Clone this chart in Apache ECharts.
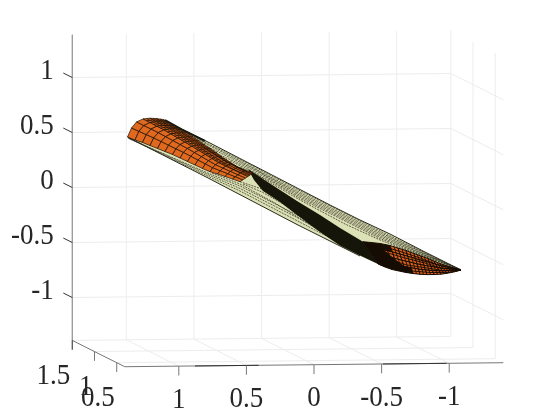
<!DOCTYPE html>
<html>
<head>
<meta charset="utf-8">
<style>
  html, body { margin: 0; padding: 0; background: #fff; }
  #chart { width: 556px; height: 417px; }
</style>
</head>
<body>
<div id="chart"></div>
<script src="https://cdn.jsdelivr.net/npm/echarts@6/dist/echarts.min.js"></script>
<script>
// axis ticks of the 3d box
var xTicks = [1, 0.5, 0, -0.5, -1];
var yTicks = [0.5, 1, 1.5];
var zTicks = [-1, -0.5, 0, 0.5, 1];
var xLim = [-1.4, 1.4];
var yLim = [0.32, 1.5];
var zLim = [-1.39, 1.39];

// the surface in view plane units
var tubeTop = [[163, 119.5], [181.7, 129.3], [210, 143], [240, 158.5], [273, 175.5], [300, 189.5], [330, 205], [360, 220], [390, 234], [423, 251], [461, 270]];
var tubeBottom = [[461, 270], [443, 274], [423, 274.5], [400, 271], [380, 265], [360, 256], [340, 246], [297, 224.5], [263, 206.7], [210, 179], [127.5, 137]];
var darkBand = [[248, 169], [263, 179], [280, 190], [297, 201], [320, 215], [340, 228], [363, 241.7], [378, 264], [360, 255.5], [340, 245.5], [320, 232], [297, 215], [280, 202], [263, 191], [254, 180]];
var darkLobe = [[363, 241.7], [380, 247], [396, 260], [415, 274], [400, 271], [380, 265]];
var topShadow = [[165, 120], [181.7, 129.3], [205, 141]];

// longitudinal lines on the pale part of the tube
var paleLines = [
  [[186, 133], [250, 164.5], [300, 190.8], [380, 231], [461, 270]],
  [[196, 139], [250, 166], [300, 192.5], [380, 232.5], [461, 270]],
  [[208, 147], [255, 169.5], [300, 194], [380, 234], [461, 270]],
  [[220, 155], [260, 173], [300, 195.5], [380, 235.5], [461, 270]],
  [[230, 161], [265, 177], [300, 197], [380, 237], [461, 270]],
  [[240, 167], [270, 181], [300, 198.5], [380, 238.5], [461, 270]],
  [[252, 172], [300, 200], [345, 224], [380, 240], [461, 270]],
  [[130, 139], [210, 174], [240, 186], [300, 216.5], [340, 238]],
  [[129, 138.5], [210, 175.5], [240, 188.5], [300, 219], [340, 241]],
  [[128, 138], [210, 177.2], [240, 191], [290, 217], [340, 243]],
  [[240, 181.7], [262, 189], [280, 197]],
  [[243, 184], [262, 192], [285, 205]],
  [[212, 173], [240, 184], [275, 203], [320, 231]]
];

// rows run across the tube, columns along it
var orangeLeft = [
  [[127.5, 137], [131.5, 128], [136.6, 121.9], [143.1, 118.9], [149.9, 118.2], [156.5, 118.6], [163, 119.5]],
  [[135, 140], [138.9, 131.3], [143.8, 125.5], [150.1, 122.5], [156.6, 121.8], [162.8, 122.1], [169, 122.5]],
  [[142.5, 142.5], [146.3, 134.6], [151.1, 129], [157, 126.2], [163.2, 125.4], [169.2, 125.5], [175, 126]],
  [[150, 145.5], [153.7, 137.9], [158.3, 132.6], [164, 129.8], [169.9, 129], [175.5, 129], [181, 129.5]],
  [[157.5, 148.5], [161.2, 141.5], [165.6, 136.6], [171, 133.9], [176.6, 133.1], [181.8, 133], [187, 133]],
  [[165, 151.5], [168.6, 145.2], [172.9, 140.5], [178, 138], [183.2, 137.2], [188.2, 137], [193, 137]],
  [[172.5, 154.5], [176, 148.8], [180.1, 144.5], [185, 142.1], [189.9, 141.2], [194.5, 141], [199, 141]],
  [[180, 158], [183.5, 152.4], [187.4, 148.4], [192, 146.2], [196.5, 145.3], [200.8, 145], [205, 145]],
  [[187.5, 161.5], [190.8, 156.2], [194.4, 152.5], [198.7, 150.3], [202.8, 149.3], [206.7, 148.9], [211, 149]],
  [[195, 165], [198.1, 160], [201.5, 156.6], [205.4, 154.4], [209, 153.3], [212.6, 152.8], [217, 153]],
  [[202.5, 168.5], [205.4, 163.9], [208.5, 160.6], [212, 158.5], [215.3, 157.3], [218.5, 156.7], [222, 157]],
  [[210, 171.7], [212.7, 167.7], [215.5, 164.7], [218.7, 162.6], [221.6, 161.3], [224.4, 160.6], [227, 160]],
  [[217.5, 174], [220.3, 170.7], [223, 168], [226, 166.1], [228.6, 164.8], [231.2, 164], [232, 163.5]],
  [[225, 176.5], [227.8, 173.7], [230.5, 171.4], [233.3, 169.6], [235.7, 168.3], [237.9, 167.3], [238, 167]],
  [[232.5, 179], [235.4, 176.8], [238, 174.7], [240.5, 173], [242.7, 171.7], [244.7, 170.7], [245, 170]],
  [[240, 181.7], [242.9, 179.8], [245.5, 178], [247.8, 176.5], [249.8, 175.2], [251.4, 174], [253, 173]]
];
// the finer, darker mesh on the upper side of the left patch
var orangeLeftFine = [
  [[146.6, 120.7], [153.3, 120], [159.7, 120.3], [166, 121]],
  [[153.6, 124.3], [159.9, 123.6], [166, 123.8], [172, 124.2]],
  [[160.5, 128], [166.5, 127.2], [172.4, 127.2], [178, 127.7]],
  [[167.5, 131.8], [173.2, 131], [178.6, 131], [184, 131.2]],
  [[174.5, 136], [179.9, 135.1], [185, 135], [190, 135]],
  [[181.5, 140], [186.5, 139.2], [191.4, 139], [196, 139]],
  [[188.5, 144.1], [193.2, 143.2], [197.7, 143], [202, 143]],
  [[195.3, 148.2], [199.7, 147.3], [203.8, 147], [208, 147]],
  [[202, 152.3], [205.9, 151.3], [209.7, 150.9], [214, 151]],
  [[208.7, 156.4], [212.1, 155.3], [215.5, 154.8], [219.5, 155]],
  [[215.3, 160.5], [218.4, 159.3], [221.4, 158.6], [224.5, 158.5]],
  [[222.3, 164.3], [225.1, 163], [227.8, 162.3], [229.5, 161.8]],
  [[146.5, 118.5], [167, 129.4], [180.6, 137.6], [194, 145.7], [207, 153.8], [220, 162], [235, 170], [248.8, 175.8]],
  [[153, 118.3], [172.5, 129], [185, 137], [198.7, 145.1], [212, 153], [225, 161], [240, 169], [250, 174.5]],
  [[160, 119], [178, 129.2], [190.5, 137], [203, 145], [215, 153], [225.7, 160.3], [240, 168.5], [252, 173.5]]
];

var orangeRight = [
  [[363, 241.7], [366.8, 247.3], [370.5, 252.9], [374.3, 258.4], [378, 264]],
  [[371, 242.5], [374.5, 248.6], [378, 254.8], [381.5, 260.9], [385, 267]],
  [[380, 243.5], [383, 250], [386, 256.5], [389, 263], [392, 269.5]],
  [[390, 245.5], [392.3, 251.9], [394.5, 258.3], [396.8, 264.6], [399, 271]],
  [[398, 248], [400, 254.1], [402, 260.3], [404, 266.4], [406, 272.5]],
  [[406, 250.5], [407.8, 256.3], [409.5, 262], [411.3, 267.8], [413, 273.5]],
  [[414, 253.5], [415.5, 258.7], [417, 263.9], [418.5, 269.1], [420, 274.3]],
  [[421, 256], [422.5, 260.7], [424, 265.3], [425.5, 270], [427, 274.6]],
  [[428, 258.5], [429.5, 262.5], [431, 266.5], [432.5, 270.5], [434, 274.5]],
  [[434, 261], [435.8, 264.3], [437.5, 267.6], [439.3, 270.9], [441, 274.2]],
  [[440, 263.5], [441.8, 266], [443.5, 268.4], [445.3, 270.9], [447, 273.3]],
  [[446, 265.5], [447.5, 267.2], [449, 268.9], [450.5, 270.6], [452, 272.3]],
  [[452, 267.5], [453.3, 268.4], [454.5, 269.4], [455.8, 270.3], [457, 271.2]],
  [[461, 270], [461, 270], [461, 270], [461, 270], [461, 270]]
];
var orangeRightFine = [
  [[367, 242.1], [381.5, 265.5]],
  [[375.5, 243], [388.5, 268.2]],
  [[385, 244.5], [395.5, 270.2]],
  [[394, 246.7], [402.5, 271.7]],
  [[402, 249.2], [409.5, 273]],
  [[410, 252], [416.5, 273.9]],
  [[417.5, 254.7], [423.5, 274.5]],
  [[424.5, 257.2], [430.5, 274.6]],
  [[431, 259.7], [437.5, 274.4]],
  [[437, 262.2], [444, 273.8]],
  [[443, 264.5], [449.5, 272.8]],
  [[449, 266.5], [454.5, 271.8]],
  [[368, 244], [385, 247], [402, 252], [420, 258], [437, 264.5], [461, 270]],
  [[372, 250], [388, 253], [405, 258], [425, 263], [441, 268], [461, 270]],
  [[376, 256], [391, 260], [407, 265], [427, 268], [443, 270.5], [461, 270]],
  [[380, 262], [395, 266], [412, 271], [430, 272.5], [448, 272.5], [461, 270]]
];

// darker runs of the bottom axis line, in x units
var axisDarkRuns = [[0.88, 0.41], [-0.51, -0.98]];

// view of the box
function project(x, y, z) {
  return [261.5 - 135.2 * x + 44.5 * (1.5 - y), 185.5 + 1.43 * x + 22.3 * (1.5 - y) - 110 * z];
}

var GRID = "#ededed";
var AXIS = "#777777";
var series = [];

// draw order is the order of adding, line series sit above custom ones otherwise
function addSeries(s) {
  s.z = series.length + 1;
  s.silent = true;
  s.clip = false;
  series.push(s);
}

function addLine(points, color, width, dash) {
  addSeries({
    type: "line",
    data: points,
    symbol: "none",
    lineStyle: { color: color, width: width, type: dash || "solid" }
  });
}

function addPolygon(points, fill) {
  addSeries({
    type: "custom",
    data: [[0, 0]],
    renderItem: function(params, api) {
      return {
        type: "polygon",
        shape: { points: points.map(function(p) { return api.coord(p); }) },
        style: { fill: fill }
      };
    }
  });
}

function addMesh(mesh, fillOf, strokeWidth) {
  var cells = [];
  for (var k = 0; k < mesh.length - 1; k++) {
    for (var j = 0; j < mesh[k].length - 1; j++) {
      cells.push([k, j]);
    }
  }
  addSeries({
    type: "custom",
    data: cells,
    renderItem: function(params, api) {
      var k = api.value(0);
      var j = api.value(1);
      var quad = [mesh[k][j], mesh[k][j + 1], mesh[k + 1][j + 1], mesh[k + 1][j]];
      return {
        type: "polygon",
        shape: { points: quad.map(function(p) { return api.coord(p); }) },
        style: { fill: fillOf(k, j), stroke: "#170c02", lineWidth: strokeWidth }
      };
    }
  });
}

function addLabels(labels) {
  addSeries({
    type: "custom",
    data: labels.map(function(l, i) { return [i, 0]; }),
    renderItem: function(params, api) {
      var l = labels[params.dataIndex];
      return {
        type: "text",
        x: l.pos[0],
        y: l.pos[1],
        scaleY: 1.06,
        style: {
          text: l.text,
          align: l.align,
          verticalAlign: "middle",
          fill: "#262626",
          font: '27px "Liberation Serif"'
        }
      };
    }
  });
}

// grid lines on the walls and the floor
xTicks.forEach(function(x) {
  addLine([project(x, yLim[1], zLim[1]), project(x, yLim[1], zLim[0]), project(x, yLim[0], zLim[0])], GRID, 1);
});
yTicks.forEach(function(y) {
  addLine([project(xLim[0], y, zLim[1]), project(xLim[0], y, zLim[0]), project(xLim[1], y, zLim[0])], GRID, 1);
});
zTicks.forEach(function(z) {
  addLine([project(xLim[1], yLim[1], z), project(xLim[0], yLim[1], z), project(xLim[0], yLim[0], z)], GRID, 1);
});

// axes and tick marks
addLine([project(xLim[1], yLim[1], zLim[1]), project(xLim[1], yLim[1], zLim[0]), project(xLim[1], yLim[0], zLim[0]), project(xLim[0], yLim[0], zLim[0])], AXIS, 1);
axisDarkRuns.forEach(function(r) {
  addLine([project(r[0], yLim[0], zLim[0]), project(r[1], yLim[0], zLim[0])], "#333", 1);
});
xTicks.forEach(function(x) {
  addLine([project(x, yLim[0], zLim[0]), project(x, yLim[0], zLim[0] - 0.085)], AXIS, 1);
});
yTicks.forEach(function(y) {
  addLine([project(xLim[1], y, zLim[0]), project(xLim[1], y, zLim[0] - 0.085)], y === 1.5 ? "#222" : AXIS, 1);
});
zTicks.forEach(function(z) {
  addLine([project(xLim[1], yLim[1], z), project(xLim[1], yLim[1] + 0.2, z)], "#333", 1);
});

// surface
addPolygon(tubeTop.concat(tubeBottom), "#dde1b6");
paleLines.forEach(function(l) { addLine(l, "#3c3c2c", 0.8, [2, 1]); });
addLine(tubeTop, "#2a2a1c", 1);
addLine(tubeBottom.slice(5), "#2a2a1c", 1);
addPolygon(darkBand, "#15150a");
addMesh(orangeLeft, function() { return "#e0691f"; }, 0.7);
orangeLeftFine.forEach(function(l) { addLine(l, "#1c0f04", 0.7); });
addLine(topShadow, "#1a1a10", 2);
addMesh(orangeRight, function(k, j) {
  return k + j < 3 || (k < 5 && j === 3) ? "#1a1006" : "#d9601c";
}, 1);
addPolygon(darkLobe, "#140c05");
orangeRightFine.forEach(function(l) { addLine(l, "#170c02", 0.9); });

var labels = [];
zTicks.forEach(function(z) {
  var p = project(xLim[1], yLim[1], z);
  labels.push({ text: String(z), pos: [p[0] - 18.5, p[1] - 6], align: "right" });
});
yTicks.forEach(function(y) {
  var p = project(xLim[1], y, zLim[0]);
  labels.push({ text: String(y), pos: [p[0] - 2, p[1] + 36], align: "right" });
});
xTicks.forEach(function(x) {
  var p = project(x, yLim[0], zLim[0]);
  labels.push({ text: String(x), pos: [p[0], p[1] + 34], align: "center" });
});
addLabels(labels);

var myChart = echarts.init(document.getElementById("chart"));
var option = {
  backgroundColor: "#fff",
  animation: false,
  grid: { left: 0, right: 0, top: 0, bottom: 0 },
  xAxis: { type: "value", min: 0, max: 556, show: false },
  yAxis: { type: "value", min: 0, max: 417, inverse: true, show: false },
  series: series
};
myChart.setOption(option);
</script>
</body>
</html>
